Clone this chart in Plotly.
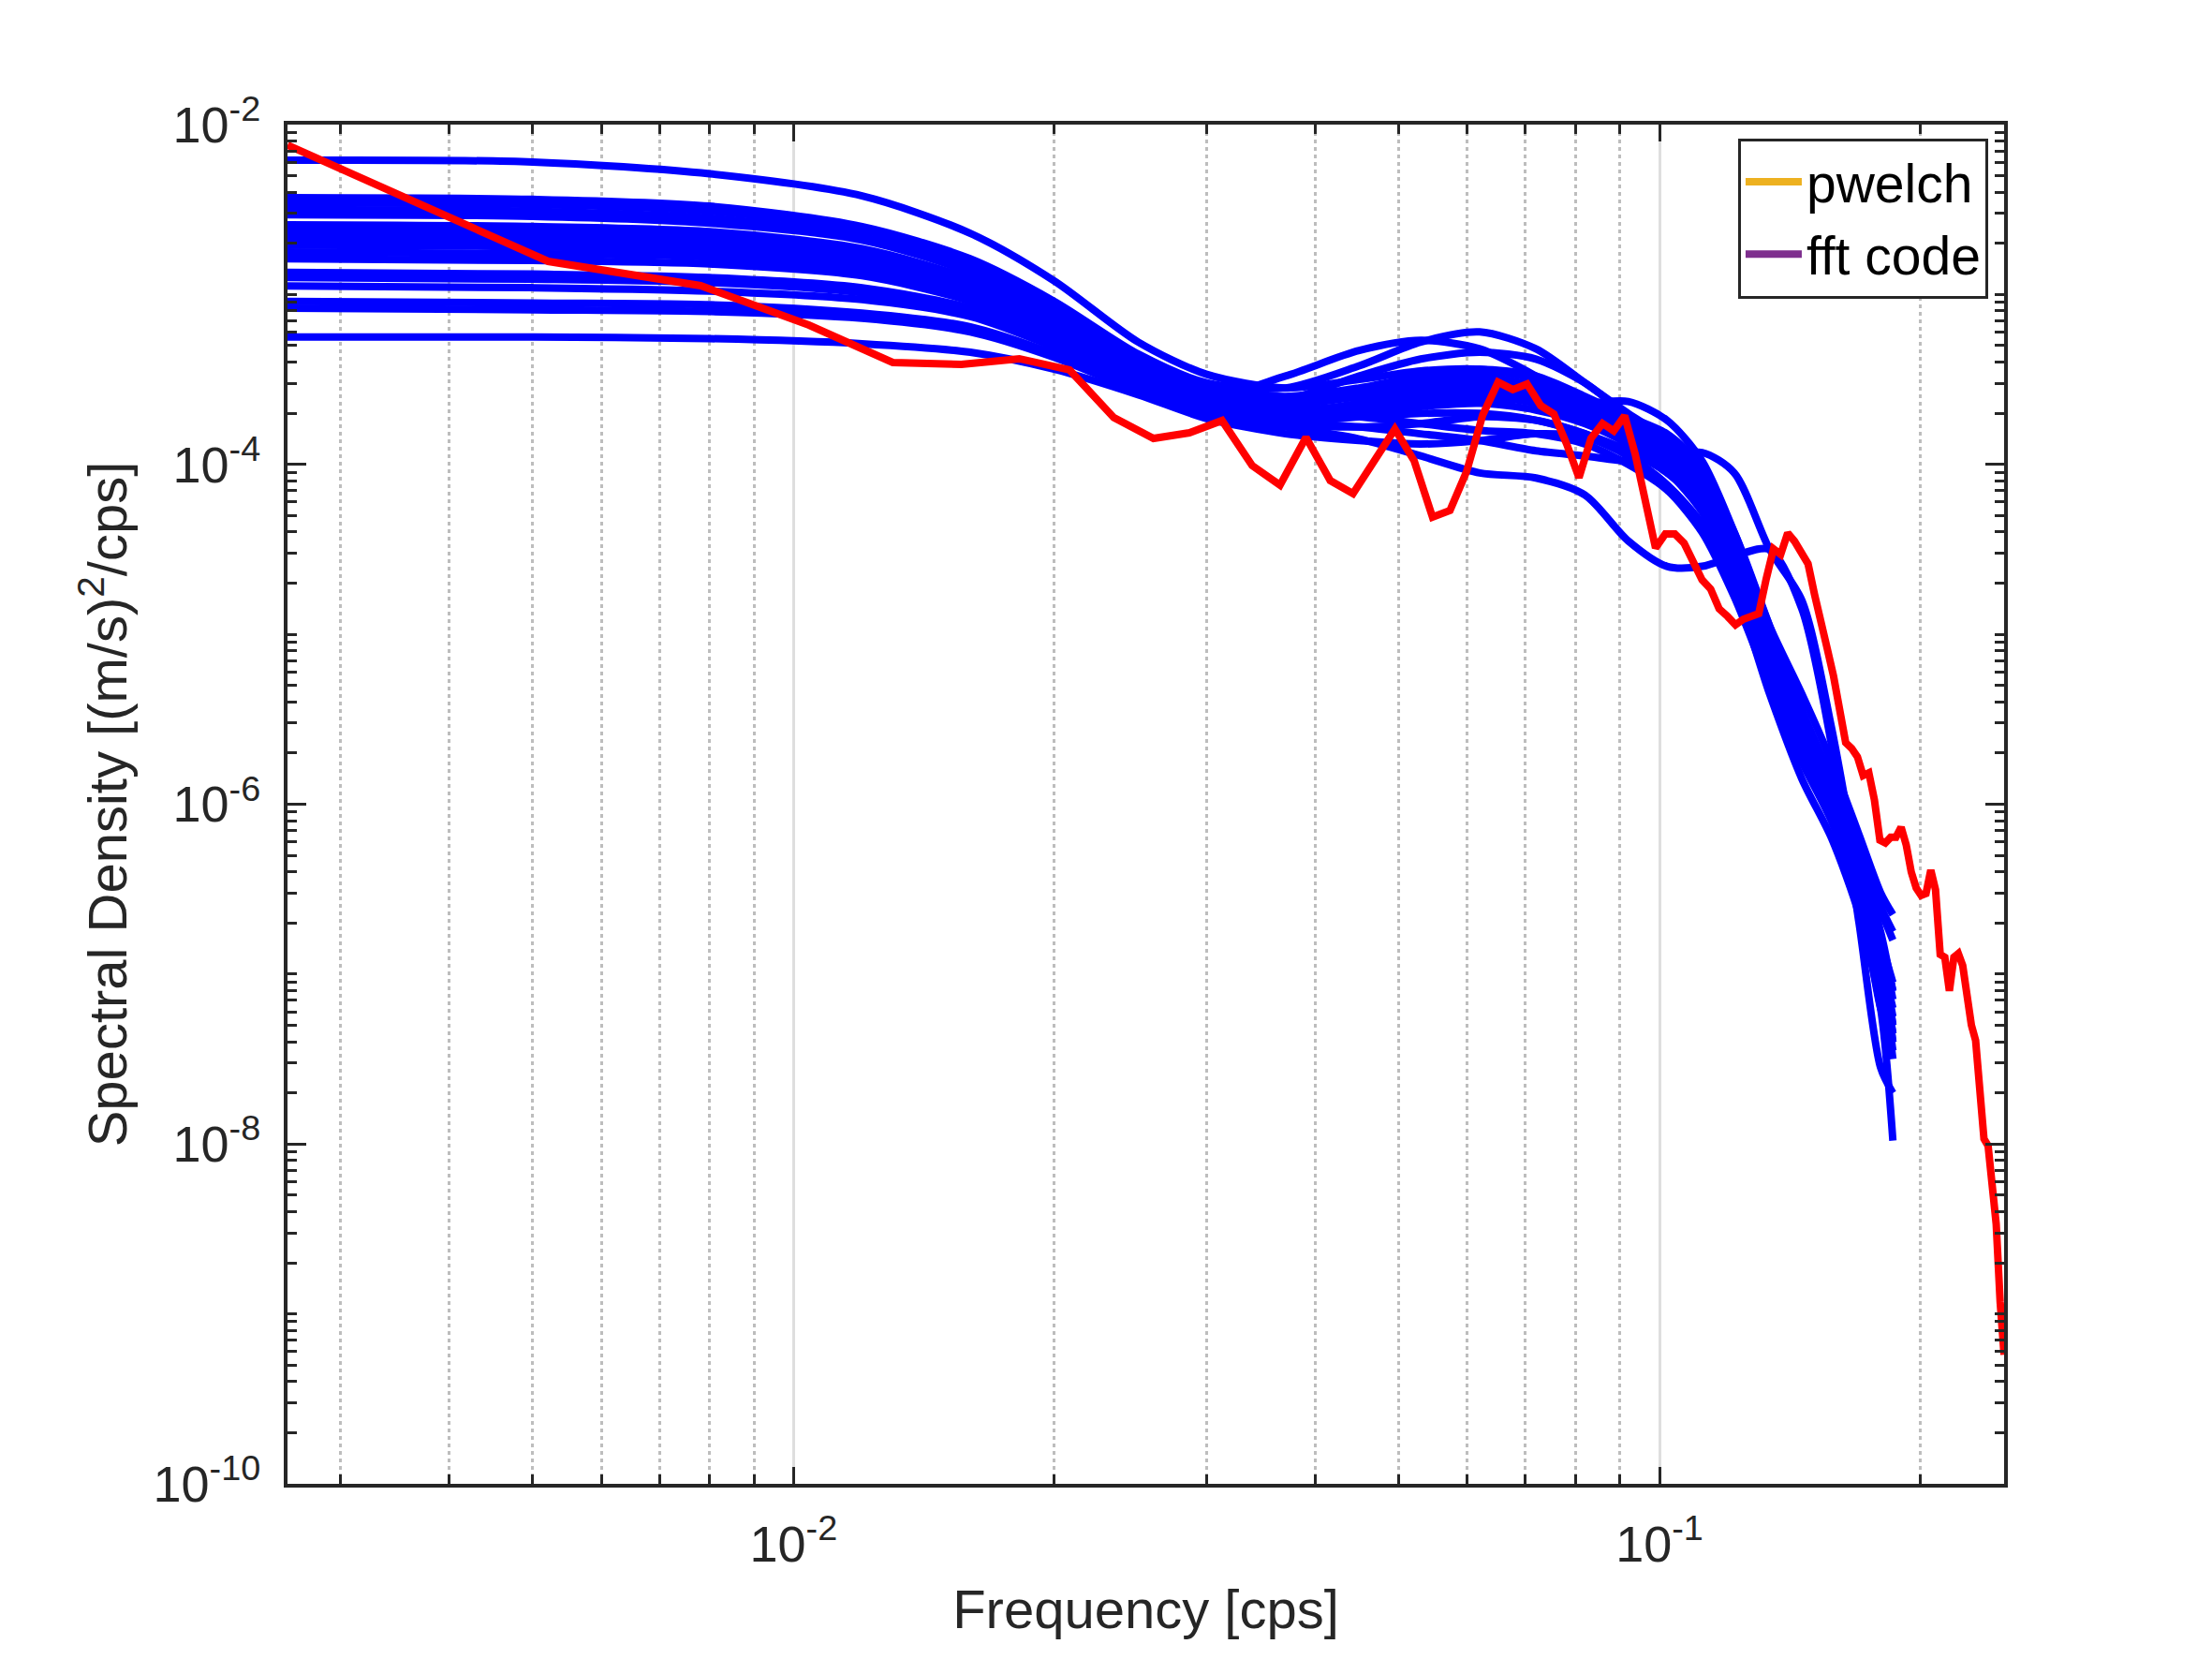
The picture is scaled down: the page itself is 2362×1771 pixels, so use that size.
import numpy as np
import plotly.graph_objects as go

# ---- data (log10 of spectral density) ----

# FFT bin index of the red spectrum, df = 1/384 cps
red_bin = list(range(1, 97))
red_log10 = [
    -2.121, -2.805, -2.948, -3.180, -3.400, -3.411, -3.378, -3.444, -3.725, -3.847,
    -3.814, -3.742, -4.007, -4.122, -3.841, -4.095, -4.172, -3.985, -3.792, -3.979,
    -4.310, -4.271, -4.040, -3.709, -3.516, -3.560, -3.527, -3.654, -3.703, -3.880,
    -4.078, -3.847, -3.759, -3.803, -3.714, -3.940, -4.227, -4.492, -4.409, -4.409,
    -4.464, -4.563, -4.679, -4.734, -4.850, -4.894, -4.944, -4.911, -4.889, -4.878,
    -4.674, -4.497, -4.530, -4.404, -4.453, -4.530, -4.585, -4.767, -4.911, -5.087,
    -5.247, -5.434, -5.638, -5.671, -5.721, -5.831, -5.815, -5.975, -6.212, -6.228,
    -6.195, -6.195, -6.135, -6.239, -6.399, -6.493, -6.537, -6.526, -6.388, -6.504,
    -6.884, -6.901, -7.099, -6.901, -6.879, -6.950, -7.140, -7.300, -7.390, -7.720,
    -7.970, -8.010, -8.200, -8.470, -8.930, -9.240,
]

blue_freq = [0.0026, 0.005, 0.008, 0.012, 0.016, 0.02, 0.025, 0.03, 0.037, 0.045,
             0.053, 0.062, 0.072, 0.082, 0.092, 0.102, 0.112, 0.122, 0.134, 0.146,
             0.158, 0.17, 0.18, 0.186]

blue_log10 = [
    [-2.21, -2.22, -2.29, -2.42, -2.64, -2.92, -3.28, -3.47, -3.55, -3.50, -3.45, -3.44, -3.50, -3.62, -3.75, -3.90, -4.15, -4.50, -5.05, -5.50, -5.90, -6.35, -6.80, -7.05],
    [-2.43, -2.44, -2.48, -2.60, -2.79, -3.04, -3.35, -3.52, -3.55, -3.42, -3.28, -3.22, -3.32, -3.52, -3.70, -3.85, -4.05, -4.40, -4.95, -5.45, -5.85, -6.25, -6.62, -6.80],
    [-2.46, -2.47, -2.51, -2.62, -2.81, -3.06, -3.37, -3.55, -3.60, -3.55, -3.48, -3.44, -3.48, -3.60, -3.72, -3.82, -4.02, -4.45, -5.10, -5.55, -5.95, -6.40, -6.90, -7.20],
    [-2.50, -2.51, -2.55, -2.66, -2.85, -3.09, -3.39, -3.56, -3.62, -3.60, -3.58, -3.60, -3.62, -3.64, -3.63, -3.74, -3.98, -4.40, -4.95, -5.35, -5.75, -6.18, -6.52, -6.65],
    [-2.53, -2.54, -2.58, -2.68, -2.87, -3.11, -3.40, -3.58, -3.62, -3.56, -3.50, -3.48, -3.54, -3.66, -3.80, -3.95, -4.20, -4.55, -5.10, -5.55, -5.95, -6.40, -6.85, -7.30],
    [-2.59, -2.60, -2.63, -2.73, -2.91, -3.14, -3.42, -3.60, -3.48, -3.33, -3.27, -3.32, -3.48, -3.66, -3.82, -3.96, -4.18, -4.52, -5.05, -5.50, -5.92, -6.35, -6.80, -7.10],
    [-2.62, -2.63, -2.66, -2.76, -2.93, -3.16, -3.44, -3.60, -3.65, -3.60, -3.55, -3.52, -3.56, -3.66, -3.78, -3.92, -4.18, -4.60, -5.15, -5.62, -6.05, -6.50, -6.95, -7.40],
    [-2.65, -2.66, -2.69, -2.78, -2.95, -3.18, -3.45, -3.62, -3.68, -3.65, -3.60, -3.58, -3.60, -3.68, -3.80, -3.96, -4.22, -4.62, -5.15, -5.60, -6.00, -6.45, -6.90, -7.25],
    [-2.68, -2.69, -2.72, -2.80, -2.97, -3.20, -3.46, -3.63, -3.62, -3.48, -3.38, -3.34, -3.38, -3.52, -3.72, -3.92, -4.15, -4.50, -5.00, -5.45, -5.88, -6.30, -6.75, -7.10],
    [-2.71, -2.72, -2.75, -2.83, -2.99, -3.21, -3.47, -3.64, -3.70, -3.68, -3.65, -3.62, -3.62, -3.68, -3.78, -3.90, -4.10, -4.45, -5.00, -5.45, -5.85, -6.25, -6.60, -6.75],
    [-2.75, -2.76, -2.78, -2.86, -3.01, -3.23, -3.48, -3.65, -3.70, -3.64, -3.58, -3.55, -3.60, -3.72, -3.88, -4.02, -4.22, -4.58, -5.12, -5.60, -6.00, -6.45, -6.90, -7.30],
    [-2.79, -2.80, -2.82, -2.89, -3.04, -3.25, -3.50, -3.66, -3.75, -3.78, -3.82, -3.86, -3.92, -3.95, -3.98, -3.96, -3.93, -4.05, -4.50, -4.80, -5.55, -6.45, -7.20, -7.40],
    [-2.87, -2.88, -2.90, -2.96, -3.08, -3.27, -3.51, -3.67, -3.72, -3.70, -3.66, -3.64, -3.68, -3.76, -3.88, -4.04, -4.28, -4.66, -5.25, -5.70, -6.08, -6.55, -7.00, -7.45],
    [-2.90, -2.91, -2.93, -2.99, -3.10, -3.29, -3.52, -3.68, -3.75, -3.72, -3.70, -3.70, -3.74, -3.82, -3.92, -4.05, -4.25, -4.62, -5.18, -5.60, -6.02, -6.48, -6.95, -7.35],
    [-2.95, -2.96, -2.98, -3.03, -3.13, -3.31, -3.53, -3.69, -3.76, -3.78, -3.76, -3.72, -3.74, -3.82, -3.95, -4.12, -4.38, -4.75, -5.28, -5.62, -5.95, -6.40, -6.90, -7.40],
    [-3.04, -3.05, -3.06, -3.11, -3.19, -3.35, -3.56, -3.71, -3.70, -3.72, -3.76, -3.80, -3.82, -3.88, -4.00, -4.15, -4.40, -4.78, -5.30, -5.75, -6.10, -6.55, -7.00, -7.50],
    [-3.08, -3.09, -3.10, -3.14, -3.22, -3.37, -3.57, -3.72, -3.78, -3.85, -3.95, -4.05, -4.08, -4.18, -4.45, -4.60, -4.60, -4.54, -4.50, -4.85, -5.65, -6.70, -7.55, -7.70],
    [-3.25, -3.25, -3.26, -3.29, -3.34, -3.44, -3.59, -3.73, -3.82, -3.86, -3.88, -3.86, -3.82, -3.84, -3.95, -4.12, -4.35, -4.72, -5.35, -5.85, -6.20, -6.65, -7.20, -7.98],
    [-2.61, -2.62, -2.65, -2.75, -2.92, -3.15, -3.43, -3.61, -3.66, -3.58, -3.52, -3.50, -3.56, -3.70, -3.86, -4.00, -4.22, -4.58, -5.12, -5.58, -6.00, -6.45, -6.95, -7.35],
    [-2.70, -2.71, -2.74, -2.82, -2.98, -3.20, -3.47, -3.63, -3.72, -3.66, -3.62, -3.60, -3.64, -3.74, -3.86, -3.98, -4.20, -4.55, -5.05, -5.48, -5.90, -6.35, -6.80, -7.15],
]

legend_names = ['pwelch', 'fft code']
legend_colors = ['#EDB120', '#7E2F8E']

x_major = [0.01, 0.1]
x_major_text = ['10<sup>-2</sup>', '10<sup>-1</sup>']
y_major = [1e-10, 1e-8, 1e-6, 1e-4, 1e-2]
y_major_text = ['10<sup>-10</sup>', '10<sup>-8</sup>', '10<sup>-6</sup>', '10<sup>-4</sup>', '10<sup>-2</sup>']

# minor ticks: 2..9 on x, everything but the labelled decades on y
x_minor = [k * 10.0 ** n for n in (-3, -2) for k in range(2, 10)] + [0.2]
y_minor = [k * 10.0 ** n for n in range(-10, -2) for k in range(1, 10)
           if not (k == 1 and n % 2 == 0)]

FONT = 'Liberation Sans, Arial, Helvetica, sans-serif'
INK = '#262626'

red_freq = [b / 384 for b in red_bin]

fig = go.Figure()

for vals in blue_log10:
    fig.add_trace(go.Scatter(
        x=blue_freq, y=np.power(10.0, vals), mode='lines',
        line=dict(color='#0000FF', width=8, shape='spline', smoothing=0.8),
        showlegend=False, hoverinfo='skip'
    ))

fig.add_trace(go.Scatter(
    x=red_freq, y=np.power(10.0, red_log10), mode='lines',
    line=dict(color='#FF0000', width=8),
    showlegend=False, hoverinfo='skip'
))

# legend entries only (no visible data in the reference)
for name, col in zip(legend_names, legend_colors):
    fig.add_trace(go.Scatter(x=[None], y=[None], mode='lines', name=name,
                             line=dict(color=col, width=8)))

fig.update_layout(
    width=2362, height=1771,
    margin=dict(l=307, r=222, t=133, b=187),
    paper_bgcolor='white', plot_bgcolor='white',
    font=dict(family=FONT, color=INK),
    legend=dict(
        x=0.9907, y=0.99, xanchor='right', yanchor='top',
        bgcolor='white', bordercolor=INK, borderwidth=3,
        font=dict(family=FONT, size=57, color='black'),
        itemwidth=60, tracegroupgap=0
    ),
    xaxis=dict(
        type='log', range=[np.log10(1 / 384), np.log10(0.25)],
        tickmode='array', tickvals=x_major, ticktext=x_major_text,
        ticks='inside', ticklen=18, tickwidth=3, tickcolor=INK,
        showline=True, linewidth=4, linecolor=INK, mirror='allticks',
        showgrid=True, gridcolor='#DEDEDE', gridwidth=3, zeroline=False,
        tickfont=dict(family=FONT, size=54, color=INK),
        ticklabelstandoff=14,
        minor=dict(tickmode='array', tickvals=x_minor, ticks='inside',
                   ticklen=10, tickwidth=3, tickcolor=INK,
                   showgrid=True, gridcolor='#BDBDBD', gridwidth=3,
                   griddash='4px,4px'),
        title=dict(text='Frequency [cps]', standoff=22,
                   font=dict(family=FONT, size=58, color=INK)),
    ),
    yaxis=dict(
        type='log', range=[-10, -2],
        tickmode='array', tickvals=y_major, ticktext=y_major_text,
        ticks='inside', ticklen=20, tickwidth=3, tickcolor=INK,
        showline=True, linewidth=4, linecolor=INK, mirror='allticks',
        showgrid=False, zeroline=False,
        tickfont=dict(family=FONT, size=54, color=INK),
        ticklabelstandoff=14,
        minor=dict(tickmode='array', tickvals=y_minor, ticks='inside',
                   ticklen=10, tickwidth=3, tickcolor=INK, showgrid=False),
        title=dict(text='Spectral Density [(m/s)<sup>2</sup>/cps]', standoff=10,
                   font=dict(family=FONT, size=58, color=INK)),
    ),
)

fig.write_html("out.html",
               config={'displayModeBar': False},
               post_script="document.body.style.margin='0';"
                           "document.body.style.overflow='hidden';")
